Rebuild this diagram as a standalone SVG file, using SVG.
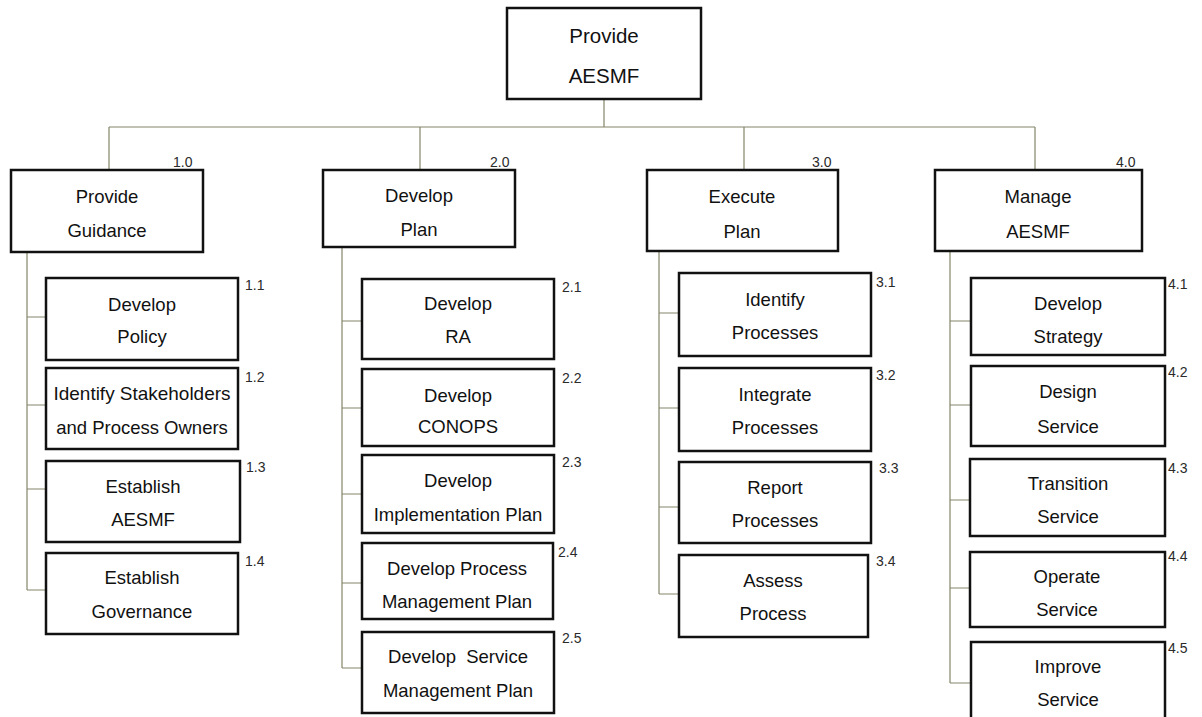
<svg xmlns="http://www.w3.org/2000/svg" width="1202" height="717" viewBox="0 0 1202 717">
  <style>
    .box { fill: #ffffff; stroke: #111111; stroke-width: 2.5; }
    .lbl { font-family: "Liberation Sans", Arial, sans-serif; font-size: 18.5px; fill: #111111; text-anchor: middle; }
    .top { font-size: 20.5px; }
    .num { font-family: "Liberation Sans", Arial, sans-serif; font-size: 14px; fill: #2a2a2a; }
    .wire { fill: none; stroke: #85856a; stroke-width: 1.2; }
  </style>

  <rect width="1202" height="717" fill="#ffffff"/>

  <!-- tree connectors -->
  <g id="connectors" class="wire">
    <path d="M604,99 V127 M109,127 H1035 M109,127 V170 M420,127 V170 M744,127 V170 M1035,127 V170"/>
    <!-- column 1 -->
    <path d="M27,252 V590 M27,317 H46 M27,405 H46 M27,489 H46 M27,590 H46"/>
    <!-- column 2 -->
    <path d="M342,247 V668 M342,321 H362 M342,408 H362 M342,494 H362 M342,583 H362 M342,668 H362"/>
    <!-- column 3 -->
    <path d="M659,251 V594 M659,313 H679 M659,408 H679 M659,507 H679 M659,594 H679"/>
    <!-- column 4 -->
    <path d="M950,251 V683 M950,321 H971 M950,405 H971 M950,500 H971 M950,588 H971 M950,683 H971"/>
  </g>

  <!-- root -->
  <g id="n0">
    <rect class="box" x="507" y="8" width="194" height="91"/>
    <text class="lbl top" x="604" y="43">Provide</text>
    <text class="lbl top" x="604" y="83">AESMF</text>
  </g>

  <!-- level 1 -->
  <g id="n1">
    <rect class="box" x="11" y="170" width="192" height="82"/>
    <text class="num" x="173" y="167">1.0</text>
    <text class="lbl" x="107" y="203">Provide</text>
    <text class="lbl" x="107" y="237">Guidance</text>
  </g>
  <g id="n2">
    <rect class="box" x="323" y="170" width="192" height="77"/>
    <text class="num" x="490" y="167">2.0</text>
    <text class="lbl" x="419" y="202">Develop</text>
    <text class="lbl" x="419" y="236">Plan</text>
  </g>
  <g id="n3">
    <rect class="box" x="647" y="170" width="191" height="81"/>
    <text class="num" x="812" y="167">3.0</text>
    <text class="lbl" x="742" y="203">Execute</text>
    <text class="lbl" x="742" y="238">Plan</text>
  </g>
  <g id="n4">
    <rect class="box" x="935" y="170" width="207" height="81"/>
    <text class="num" x="1116" y="167">4.0</text>
    <text class="lbl" x="1038" y="203">Manage</text>
    <text class="lbl" x="1038" y="238">AESMF</text>
  </g>

  <!-- column 1 -->
  <g id="n1-1">
    <rect class="box" x="46" y="278" width="192" height="82"/>
    <text class="num" x="245" y="290">1.1</text>
    <text class="lbl" x="142" y="311">Develop</text>
    <text class="lbl" x="142" y="343">Policy</text>
  </g>
  <g id="n1-2">
    <rect class="box" x="46" y="368" width="192" height="81"/>
    <text class="num" x="245" y="382">1.2</text>
    <text class="lbl" x="142" y="400" textLength="177" lengthAdjust="spacingAndGlyphs">Identify Stakeholders</text>
    <text class="lbl" x="142" y="434">and Process Owners</text>
  </g>
  <g id="n1-3">
    <rect class="box" x="46" y="461" width="194" height="81"/>
    <text class="num" x="246" y="472">1.3</text>
    <text class="lbl" x="143" y="493">Establish</text>
    <text class="lbl" x="143" y="526">AESMF</text>
  </g>
  <g id="n1-4">
    <rect class="box" x="46" y="553" width="192" height="81"/>
    <text class="num" x="245" y="566">1.4</text>
    <text class="lbl" x="142" y="584">Establish</text>
    <text class="lbl" x="142" y="618">Governance</text>
  </g>

  <!-- column 2 -->
  <g id="n2-1">
    <rect class="box" x="362" y="279" width="192" height="80"/>
    <text class="num" x="562" y="292">2.1</text>
    <text class="lbl" x="458" y="310">Develop</text>
    <text class="lbl" x="458" y="343">RA</text>
  </g>
  <g id="n2-2">
    <rect class="box" x="362" y="369" width="192" height="77"/>
    <text class="num" x="562" y="383">2.2</text>
    <text class="lbl" x="458" y="402">Develop</text>
    <text class="lbl" x="458" y="433">CONOPS</text>
  </g>
  <g id="n2-3">
    <rect class="box" x="362" y="455" width="192" height="78"/>
    <text class="num" x="562" y="467">2.3</text>
    <text class="lbl" x="458" y="487">Develop</text>
    <text class="lbl" x="458" y="521">Implementation Plan</text>
  </g>
  <g id="n2-4">
    <rect class="box" x="362" y="543" width="191" height="76"/>
    <text class="num" x="558" y="557">2.4</text>
    <text class="lbl" x="457" y="575">Develop Process</text>
    <text class="lbl" x="457" y="608">Management Plan</text>
  </g>
  <g id="n2-5">
    <rect class="box" x="362" y="632" width="192" height="81"/>
    <text class="num" x="562" y="643">2.5</text>
    <text class="lbl" x="458" y="663" xml:space="preserve">Develop  Service</text>
    <text class="lbl" x="458" y="697">Management Plan</text>
  </g>

  <!-- column 3 -->
  <g id="n3-1">
    <rect class="box" x="679" y="273" width="192" height="83"/>
    <text class="num" x="876" y="287">3.1</text>
    <text class="lbl" x="775" y="306">Identify</text>
    <text class="lbl" x="775" y="339">Processes</text>
  </g>
  <g id="n3-2">
    <rect class="box" x="679" y="368" width="192" height="83"/>
    <text class="num" x="876" y="380">3.2</text>
    <text class="lbl" x="775" y="401">Integrate</text>
    <text class="lbl" x="775" y="434">Processes</text>
  </g>
  <g id="n3-3">
    <rect class="box" x="679" y="462" width="192" height="81"/>
    <text class="num" x="879" y="473">3.3</text>
    <text class="lbl" x="775" y="494">Report</text>
    <text class="lbl" x="775" y="527">Processes</text>
  </g>
  <g id="n3-4">
    <rect class="box" x="679" y="555" width="189" height="82"/>
    <text class="num" x="876" y="566">3.4</text>
    <text class="lbl" x="773" y="587">Assess</text>
    <text class="lbl" x="773" y="620">Process</text>
  </g>

  <!-- column 4 -->
  <g id="n4-1">
    <rect class="box" x="971" y="278" width="194" height="77"/>
    <text class="num" x="1168" y="289">4.1</text>
    <text class="lbl" x="1068" y="310">Develop</text>
    <text class="lbl" x="1068" y="343">Strategy</text>
  </g>
  <g id="n4-2">
    <rect class="box" x="971" y="366" width="194" height="80"/>
    <text class="num" x="1168" y="377">4.2</text>
    <text class="lbl" x="1068" y="398">Design</text>
    <text class="lbl" x="1068" y="433">Service</text>
  </g>
  <g id="n4-3">
    <rect class="box" x="970" y="459" width="195" height="77"/>
    <text class="num" x="1168" y="473">4.3</text>
    <text class="lbl" x="1068" y="490">Transition</text>
    <text class="lbl" x="1068" y="523">Service</text>
  </g>
  <g id="n4-4">
    <rect class="box" x="970" y="552" width="195" height="75"/>
    <text class="num" x="1168" y="561">4.4</text>
    <text class="lbl" x="1067" y="583">Operate</text>
    <text class="lbl" x="1067" y="616">Service</text>
  </g>
  <g id="n4-5">
    <rect class="box" x="971" y="642" width="194" height="78"/>
    <text class="num" x="1168" y="653">4.5</text>
    <text class="lbl" x="1068" y="673">Improve</text>
    <text class="lbl" x="1068" y="706">Service</text>
  </g>
</svg>
